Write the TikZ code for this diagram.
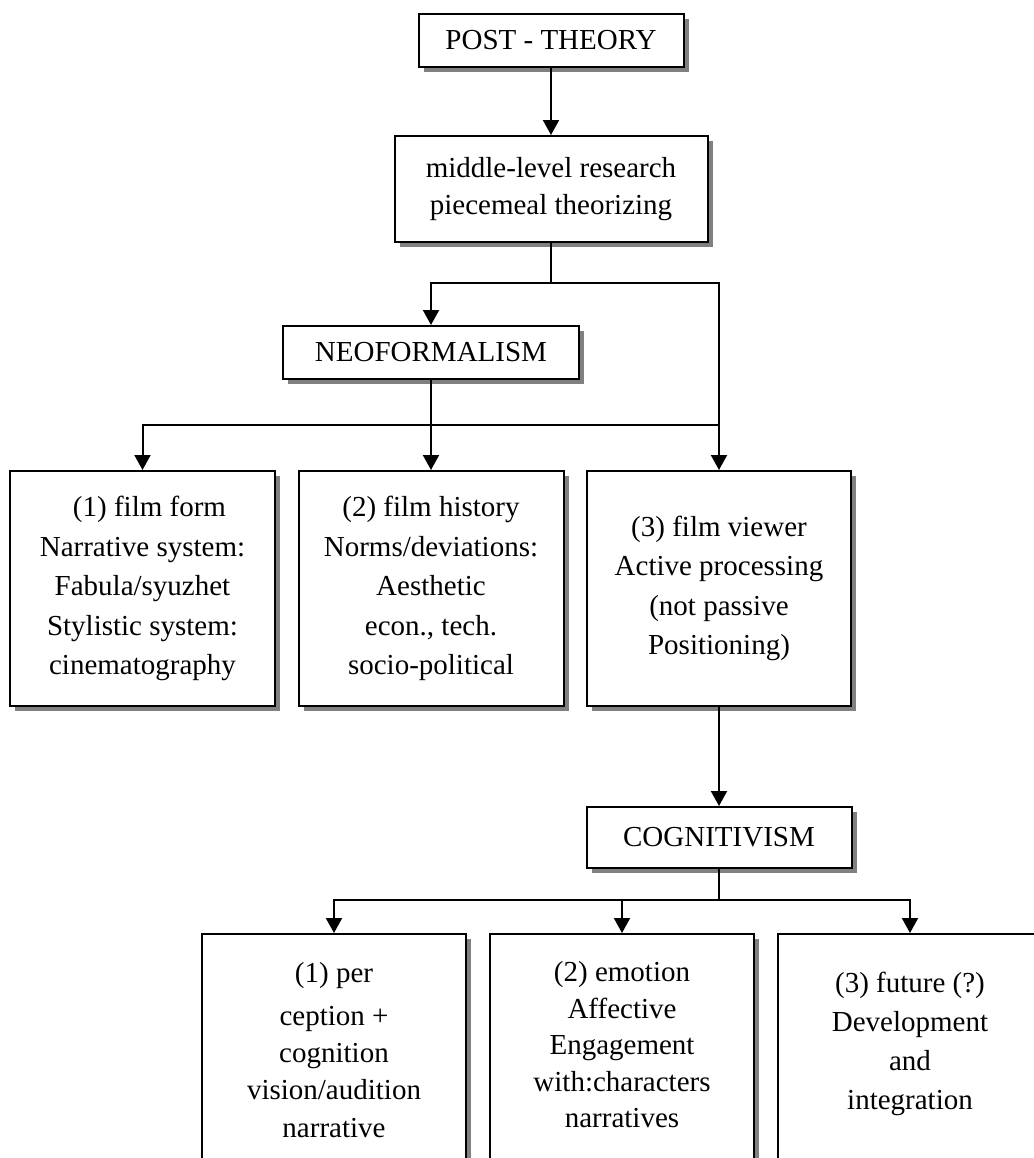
\documentclass[tikz,border=0pt]{standalone}
\usepackage{fontspec}
\setmainfont{Liberation Serif}
\usetikzlibrary{arrows.meta,shadows}
\begin{document}
\begin{tikzpicture}[x=0.5pt,y=-0.5pt,
  boxnode/.style={draw, line width=1pt, fill=white, rectangle, inner sep=0pt,
    align=center, font=\fontsize{14.5}{19.75}\selectfont,
    drop shadow={shadow xshift=2.5pt, shadow yshift=-2.5pt, fill=shadowgray, opacity=1}},
  txt/.style={inner sep=0pt, align=center},
  conn/.style={line width=1pt, line join=miter},
  arr/.style={conn, -{Triangle[length=7.5pt,width=8pt]}}]
\definecolor{shadowgray}{RGB}{128,128,128}
\useasboundingbox (0,0) rectangle (1034,1158);
\clip (0,0) rectangle (1034,1158);
% top
\node[boxnode, minimum width=132.5pt, minimum height=26.5pt] (post) at (551,40.5) {POST - THEORY};
\node[boxnode, minimum width=156.5pt, minimum height=53pt, font=\fontsize{14.5}{18.5}\selectfont] (mid) at (551,189) {middle-level research\\piecemeal theorizing};
\node[boxnode, minimum width=148pt, minimum height=26.5pt] (neo) at (431,352.5) {NEOFORMALISM};
% film row
\node[boxnode, minimum width=132.5pt, minimum height=117.5pt] (f1) at (142.5,588.5) {\hspace{7pt}(1) film form\\Narrative system:\\Fabula/syuzhet\\Stylistic system:\\cinematography};
\node[boxnode, minimum width=132.5pt, minimum height=117.5pt] (f2) at (431,588.5) {(2) film history\\Norms/deviations:\\Aesthetic\\econ., tech.\\socio-political};
\node[boxnode, minimum width=132pt, minimum height=117.5pt] (f3) at (719,588.5) {(3) film viewer\\Active processing\\(not passive\\Positioning)};
% cognitivism
\node[boxnode, minimum width=132.5pt, minimum height=30.5pt] (cog) at (719,837.5) {COGNITIVISM};
% bottom row (cut off by the page edge)
\node[boxnode, minimum width=132pt, minimum height=140pt, anchor=north] (c1) at (334,933) {};
\node[boxnode, minimum width=132pt, minimum height=140pt, anchor=north] (c2) at (622,933) {};
\node[boxnode, minimum width=132pt, minimum height=140pt, anchor=north] (c3) at (910,933) {};
\node[txt, font=\fontsize{14.5}{18.7}\selectfont] (c1t) at (334,1050) {(1) per\\[2.5pt]ception +\\cognition\\vision/audition\\narrative};
\node[txt, font=\fontsize{14.5}{18.25}\selectfont] (c2t) at (622,1045) {(2) emotion\\Affective\\Engagement\\with:characters\\narratives};
\node[txt, font=\fontsize{14.5}{19.5}\selectfont] (c3t) at (910,1044) {(3) future (?)\\Development\\and\\integration};
% junctions
\coordinate (j1) at (551,283);
\coordinate (j2) at (431,425);
\coordinate (j3) at (719,900);
% connectors
\draw[arr] (post.south) -- (mid.north);
\draw[conn] (mid.south) -- (j1);
\draw[arr] (j1) -| (neo.north);
\draw[arr] (j1) -| (f3.north);
\draw[conn] (neo.south) -- (j2);
\draw[arr] (j2) -| (f1.north);
\draw[arr] (j2) -- (f2.north);
\draw[conn] (j2) -- (j2 -| f3.north);
\draw[arr] (f3.south) -- (cog.north);
\draw[conn] (cog.south) -- (j3);
\draw[arr] (j3) -| (c1.north);
\draw[arr] (j3) -| (c2.north);
\draw[arr] (j3) -| (c3.north);
\end{tikzpicture}
\end{document}
